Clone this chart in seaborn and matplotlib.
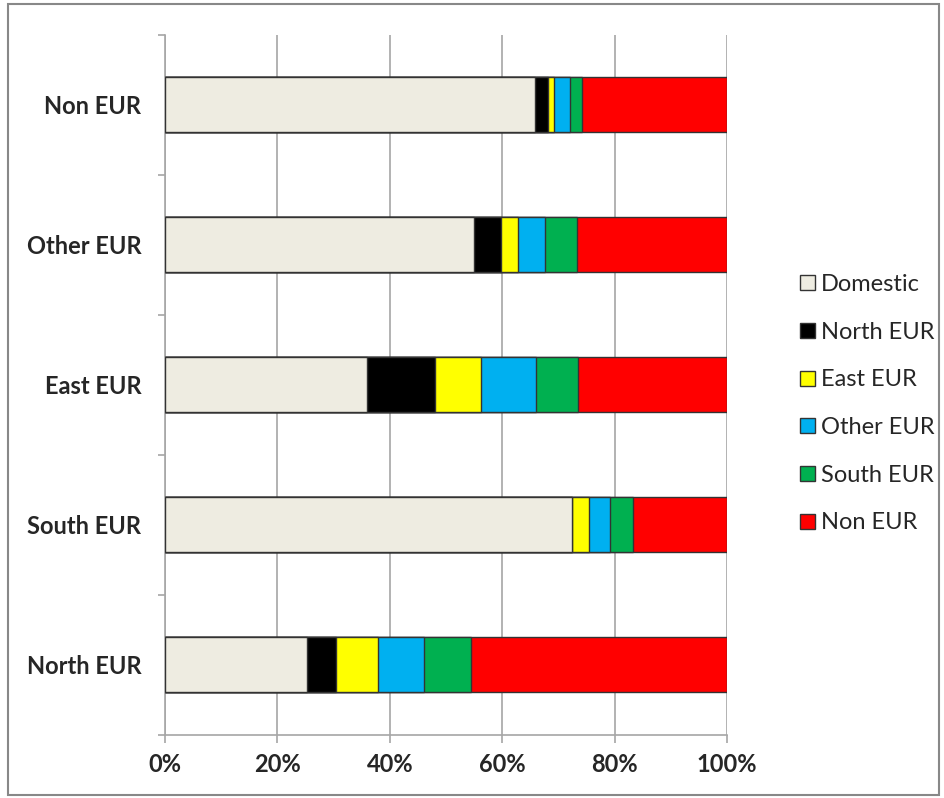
"""Stacked horizontal bars: destination shares by origin region."""
import matplotlib
matplotlib.use("Agg")
import matplotlib.pyplot as plt
from matplotlib.patches import Patch, Rectangle
from matplotlib.ticker import FixedLocator, PercentFormatter
import numpy as np
import pandas as pd
import seaborn as sns

regions = ["Non EUR", "Other EUR", "East EUR", "South EUR", "North EUR"]
segments = ["Domestic", "North EUR", "East EUR", "Other EUR", "South EUR", "Non EUR"]
colors = ["#EEECE1", "#000000", "#FFFF00", "#00B0F0", "#00B050", "#FF0000"]

# shares in %, one list per segment, in the order of `regions`
domestic = [65.8, 54.9, 36.0, 72.4, 25.2]
north_eur = [2.4, 4.9, 12.1, 0.0, 5.3]
east_eur = [1.1, 3.1, 8.1, 3.0, 7.4]
other_eur = [2.7, 4.8, 9.9, 3.8, 8.1]
south_eur = [2.2, 5.6, 7.4, 4.0, 8.4]
non_eur = [25.8, 26.7, 26.5, 16.8, 45.6]

df = pd.DataFrame(
    {
        "region": regions,
        "Domestic": domestic,
        "North EUR": north_eur,
        "East EUR": east_eur,
        "Other EUR": other_eur,
        "South EUR": south_eur,
        "Non EUR": non_eur,
    }
)
vals = df[segments]
vals = vals.div(vals.sum(axis=1), axis=0) * 100
cum = vals.cumsum(axis=1)

sns.set_theme(style="white")
plt.rcParams["font.family"] = ["Lato", "DejaVu Sans"]

fig = plt.figure(figsize=(9.44, 7.98), dpi=100)
ax = fig.add_axes([165 / 944, 1 - 734.5 / 798, 562 / 944, 700 / 798])

# draw longest cumulative bar first so shorter ones sit on top
for seg, col in reversed(list(zip(segments, colors))):
    sns.barplot(
        x=cum[seg].values, y=df["region"], orient="h", ax=ax, color=col,
        width=0.39, edgecolor="#333333", linewidth=1.0, saturation=1, zorder=3,
    )

ax.set_xlim(0, 100)
ax.set_ylim(4.5, -0.5)
ax.xaxis.set_major_locator(FixedLocator([0, 20, 40, 60, 80, 100]))
ax.xaxis.set_major_formatter(PercentFormatter(decimals=0))
ax.grid(axis="x", color="#A6A6A6", linewidth=1.2, zorder=0)
ax.set_axisbelow(True)
ax.set_xlabel("")
ax.set_ylabel("")

for s in ["top", "right"]:
    ax.spines[s].set_visible(False)
for s in ["left", "bottom"]:
    ax.spines[s].set_color("#A6A6A6")
    ax.spines[s].set_linewidth(1.2)

ax.yaxis.set_minor_locator(FixedLocator(np.arange(-0.5, 5, 1)))
ax.tick_params(axis="y", which="major", length=0, pad=17, labelsize=17)
ax.tick_params(axis="y", which="minor", left=True, length=5, width=1.2, color="#A6A6A6")
ax.tick_params(axis="x", bottom=True, length=6, width=1.2, color="#A6A6A6", pad=7, labelsize=17)
for lab in ax.get_xticklabels() + ax.get_yticklabels():
    lab.set_fontweight("bold")

handles = [Patch(facecolor=c, edgecolor="#333333", linewidth=1.0) for c in colors]
fig.legend(
    handles, segments, loc="center left", bbox_to_anchor=(791 / 944, 0.494),
    frameon=False, fontsize=17, labelspacing=1.13, handlelength=0.6,
    handleheight=0.6, handletextpad=0.25, borderaxespad=0,
)

fig.patches.append(
    Rectangle((8 / 944, 3 / 798), 931 / 944, 791 / 798, transform=fig.transFigure,
              fill=False, edgecolor="#888888", linewidth=1.5)
)

fig.savefig("out.png", dpi=100)
